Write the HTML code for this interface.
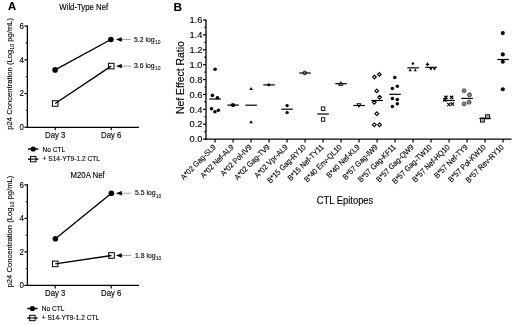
<!DOCTYPE html>
<html><head><meta charset="utf-8"><style>
html,body{margin:0;padding:0;background:#fff;}
svg{display:block;font-family:"Liberation Sans", sans-serif;filter:grayscale(1);} text{stroke:#000;stroke-width:0.12px;}
</style></head><body>
<svg width="520" height="325" viewBox="0 0 520 325" fill="#000">
<rect width="520" height="325" fill="#fff"/>
<text transform="translate(8.00 10.00)" font-size="11.3" font-weight="bold">A</text>
<text transform="translate(173.60 10.90)" font-size="11.8" font-weight="bold">B</text>
<line x1="27.4" y1="25.48" x2="27.4" y2="127.90" stroke="#000" stroke-width="1.3"/>
<line x1="24.40" y1="127.30" x2="27.4" y2="127.30" stroke="#000" stroke-width="1.2"/>
<text transform="translate(23.90 130.20) scale(1 1.1)" font-size="8" text-anchor="end">0</text>
<line x1="25.80" y1="110.43" x2="27.4" y2="110.43" stroke="#000" stroke-width="1.2"/>
<line x1="24.40" y1="93.56" x2="27.4" y2="93.56" stroke="#000" stroke-width="1.2"/>
<text transform="translate(23.90 96.46) scale(1 1.1)" font-size="8" text-anchor="end">2</text>
<line x1="25.80" y1="76.69" x2="27.4" y2="76.69" stroke="#000" stroke-width="1.2"/>
<line x1="24.40" y1="59.82" x2="27.4" y2="59.82" stroke="#000" stroke-width="1.2"/>
<text transform="translate(23.90 62.72) scale(1 1.1)" font-size="8" text-anchor="end">4</text>
<line x1="25.80" y1="42.95" x2="27.4" y2="42.95" stroke="#000" stroke-width="1.2"/>
<line x1="24.40" y1="26.08" x2="27.4" y2="26.08" stroke="#000" stroke-width="1.2"/>
<text transform="translate(23.90 28.98) scale(1 1.1)" font-size="8" text-anchor="end">6</text>
<line x1="26.799999999999997" y1="127.30" x2="139" y2="127.30" stroke="#000" stroke-width="1.3"/>
<line x1="55.2" y1="127.3" x2="55.2" y2="130.30" stroke="#000" stroke-width="1.2"/>
<text transform="translate(55.20 137.80) scale(1 1.1)" font-size="7.8" text-anchor="middle">Day 3</text>
<line x1="111.2" y1="127.3" x2="111.2" y2="130.30" stroke="#000" stroke-width="1.2"/>
<text transform="translate(111.20 137.80) scale(1 1.1)" font-size="7.8" text-anchor="middle">Day 6</text>
<text transform="translate(59.30 10.10) scale(1 1.1)" font-size="7.8">Wild-Type Nef</text>
<text transform="translate(12.00 73.79) rotate(-90)" font-size="7.65" text-anchor="middle">p24 Concentration (Log<tspan font-size="5.4" dy="1.7" stroke-width="0.05">10</tspan><tspan dy="-1.7"> pg/mL)</tspan></text>
<line x1="55.1" y1="69.9" x2="110.9" y2="39.5" stroke="#000" stroke-width="1.4"/>
<line x1="55.2" y1="103.5" x2="111.2" y2="66.1" stroke="#000" stroke-width="1.4"/>
<circle cx="55.1" cy="69.9" r="2.8" fill="#000"/>
<circle cx="110.9" cy="39.5" r="2.8" fill="#000"/>
<rect x="52.40" y="100.70" width="5.6" height="5.6" fill="none" stroke="#000" stroke-width="1.0"/>
<rect x="108.40" y="63.30" width="5.6" height="5.6" fill="none" stroke="#000" stroke-width="1.0"/>
<path d="M115.9 39.50 L121.8 37.30 L121.8 41.70 Z" fill="#000"/>
<line x1="121.6" y1="39.50" x2="131" y2="39.50" stroke="#000" stroke-width="0.7" stroke-dasharray="1 1"/>
<text transform="translate(134.00 41.60) scale(1 1.1)" font-size="6.9">5.2 log<tspan font-size="5.0" dy="2.0" dx="0.2" stroke-width="0.05">10</tspan></text>
<path d="M115.9 66.10 L121.8 63.90 L121.8 68.30 Z" fill="#000"/>
<line x1="121.6" y1="66.10" x2="131" y2="66.10" stroke="#000" stroke-width="0.7" stroke-dasharray="1 1"/>
<text transform="translate(134.00 68.20) scale(1 1.1)" font-size="6.9">3.6 log<tspan font-size="5.0" dy="2.0" dx="0.2" stroke-width="0.05">10</tspan></text>
<line x1="27.4" y1="184.30" x2="27.4" y2="286.00" stroke="#000" stroke-width="1.3"/>
<line x1="24.40" y1="285.40" x2="27.4" y2="285.40" stroke="#000" stroke-width="1.2"/>
<text transform="translate(23.90 288.30) scale(1 1.1)" font-size="8" text-anchor="end">0</text>
<line x1="25.80" y1="268.65" x2="27.4" y2="268.65" stroke="#000" stroke-width="1.2"/>
<line x1="24.40" y1="251.90" x2="27.4" y2="251.90" stroke="#000" stroke-width="1.2"/>
<text transform="translate(23.90 254.80) scale(1 1.1)" font-size="8" text-anchor="end">2</text>
<line x1="25.80" y1="235.15" x2="27.4" y2="235.15" stroke="#000" stroke-width="1.2"/>
<line x1="24.40" y1="218.40" x2="27.4" y2="218.40" stroke="#000" stroke-width="1.2"/>
<text transform="translate(23.90 221.30) scale(1 1.1)" font-size="8" text-anchor="end">4</text>
<line x1="25.80" y1="201.65" x2="27.4" y2="201.65" stroke="#000" stroke-width="1.2"/>
<line x1="24.40" y1="184.90" x2="27.4" y2="184.90" stroke="#000" stroke-width="1.2"/>
<text transform="translate(23.90 187.80) scale(1 1.1)" font-size="8" text-anchor="end">6</text>
<line x1="26.799999999999997" y1="285.40" x2="139" y2="285.40" stroke="#000" stroke-width="1.3"/>
<line x1="55.2" y1="285.4" x2="55.2" y2="288.40" stroke="#000" stroke-width="1.2"/>
<text transform="translate(55.20 295.90) scale(1 1.1)" font-size="7.8" text-anchor="middle">Day 3</text>
<line x1="111.2" y1="285.4" x2="111.2" y2="288.40" stroke="#000" stroke-width="1.2"/>
<text transform="translate(111.20 295.90) scale(1 1.1)" font-size="7.8" text-anchor="middle">Day 6</text>
<text transform="translate(70.50 177.80) scale(1 1.1)" font-size="7.8">M20A Nef</text>
<text transform="translate(12.00 231.55) rotate(-90)" font-size="7.65" text-anchor="middle">p24 Concentration (Log<tspan font-size="5.4" dy="1.7" stroke-width="0.05">10</tspan><tspan dy="-1.7"> pg/mL)</tspan></text>
<line x1="55.4" y1="238.7" x2="111.4" y2="193.3" stroke="#000" stroke-width="1.4"/>
<line x1="55.2" y1="263.9" x2="111.5" y2="255.5" stroke="#000" stroke-width="1.4"/>
<circle cx="55.4" cy="238.7" r="2.8" fill="#000"/>
<circle cx="111.4" cy="193.3" r="2.8" fill="#000"/>
<rect x="52.40" y="261.10" width="5.6" height="5.6" fill="none" stroke="#000" stroke-width="1.0"/>
<rect x="108.70" y="252.70" width="5.6" height="5.6" fill="none" stroke="#000" stroke-width="1.0"/>
<path d="M115.9 193.30 L121.8 191.10 L121.8 195.50 Z" fill="#000"/>
<line x1="121.6" y1="193.30" x2="131" y2="193.30" stroke="#000" stroke-width="0.7" stroke-dasharray="1 1"/>
<text transform="translate(134.90 195.40) scale(1 1.1)" font-size="6.9">5.5 log<tspan font-size="5.0" dy="2.0" dx="0.2" stroke-width="0.05">10</tspan></text>
<path d="M115.9 255.50 L121.8 253.30 L121.8 257.70 Z" fill="#000"/>
<line x1="121.6" y1="255.50" x2="131" y2="255.50" stroke="#000" stroke-width="0.7" stroke-dasharray="1 1"/>
<text transform="translate(134.90 257.60) scale(1 1.1)" font-size="6.9">1.8 log<tspan font-size="5.0" dy="2.0" dx="0.2" stroke-width="0.05">10</tspan></text>
<line x1="28" y1="149.0" x2="38.4" y2="149.0" stroke="#000" stroke-width="1.4"/>
<circle cx="33.2" cy="149.0" r="2.6" fill="#000"/>
<text transform="translate(42.60 152.00) scale(1 1.1)" font-size="6.6">No CTL</text>
<line x1="28" y1="159.10" x2="38.4" y2="159.10" stroke="#000" stroke-width="1.4"/>
<rect x="30.5" y="156.40" width="5.4" height="5.4" fill="#fff" stroke="#000" stroke-width="1.0"/>
<line x1="30.5" y1="159.10" x2="35.9" y2="159.10" stroke="#000" stroke-width="1.1"/>
<text transform="translate(42.60 161.30) scale(1 1.1)" font-size="6.6">+ S14-YT9-1.2 CTL</text>
<line x1="27.2" y1="308.5" x2="37.6" y2="308.5" stroke="#000" stroke-width="1.4"/>
<circle cx="32.400000000000006" cy="308.5" r="2.6" fill="#000"/>
<text transform="translate(41.80 310.80) scale(1 1.1)" font-size="6.6">No CTL</text>
<line x1="27.2" y1="318.00" x2="37.6" y2="318.00" stroke="#000" stroke-width="1.4"/>
<rect x="29.7" y="315.30" width="5.4" height="5.4" fill="#fff" stroke="#000" stroke-width="1.0"/>
<line x1="29.7" y1="318.00" x2="35.1" y2="318.00" stroke="#000" stroke-width="1.1"/>
<text transform="translate(41.80 320.20) scale(1 1.1)" font-size="6.6">+ S14-YT9-1.2 CTL</text>
<line x1="206.0" y1="19.40" x2="206.0" y2="139.7" stroke="#000" stroke-width="1.3"/>
<line x1="203.00" y1="139.10" x2="206.0" y2="139.10" stroke="#000" stroke-width="1.2"/>
<text transform="translate(202.40 142.30)" font-size="9.3" text-anchor="end">0.0</text>
<line x1="204.40" y1="131.66" x2="206.0" y2="131.66" stroke="#000" stroke-width="1.2"/>
<line x1="203.00" y1="124.21" x2="206.0" y2="124.21" stroke="#000" stroke-width="1.2"/>
<text transform="translate(202.40 127.41)" font-size="9.3" text-anchor="end">0.2</text>
<line x1="204.40" y1="116.77" x2="206.0" y2="116.77" stroke="#000" stroke-width="1.2"/>
<line x1="203.00" y1="109.32" x2="206.0" y2="109.32" stroke="#000" stroke-width="1.2"/>
<text transform="translate(202.40 112.52)" font-size="9.3" text-anchor="end">0.4</text>
<line x1="204.40" y1="101.88" x2="206.0" y2="101.88" stroke="#000" stroke-width="1.2"/>
<line x1="203.00" y1="94.44" x2="206.0" y2="94.44" stroke="#000" stroke-width="1.2"/>
<text transform="translate(202.40 97.64)" font-size="9.3" text-anchor="end">0.6</text>
<line x1="204.40" y1="86.99" x2="206.0" y2="86.99" stroke="#000" stroke-width="1.2"/>
<line x1="203.00" y1="79.55" x2="206.0" y2="79.55" stroke="#000" stroke-width="1.2"/>
<text transform="translate(202.40 82.75)" font-size="9.3" text-anchor="end">0.8</text>
<line x1="204.40" y1="72.10" x2="206.0" y2="72.10" stroke="#000" stroke-width="1.2"/>
<line x1="203.00" y1="64.66" x2="206.0" y2="64.66" stroke="#000" stroke-width="1.2"/>
<text transform="translate(202.40 67.86)" font-size="9.3" text-anchor="end">1.0</text>
<line x1="204.40" y1="57.22" x2="206.0" y2="57.22" stroke="#000" stroke-width="1.2"/>
<line x1="203.00" y1="49.77" x2="206.0" y2="49.77" stroke="#000" stroke-width="1.2"/>
<text transform="translate(202.40 52.97)" font-size="9.3" text-anchor="end">1.2</text>
<line x1="204.40" y1="42.33" x2="206.0" y2="42.33" stroke="#000" stroke-width="1.2"/>
<line x1="203.00" y1="34.88" x2="206.0" y2="34.88" stroke="#000" stroke-width="1.2"/>
<text transform="translate(202.40 38.08)" font-size="9.3" text-anchor="end">1.4</text>
<line x1="204.40" y1="27.44" x2="206.0" y2="27.44" stroke="#000" stroke-width="1.2"/>
<line x1="203.00" y1="20.00" x2="206.0" y2="20.00" stroke="#000" stroke-width="1.2"/>
<text transform="translate(202.40 23.20)" font-size="9.3" text-anchor="end">1.6</text>
<line x1="205.4" y1="139.1" x2="511.5" y2="139.1" stroke="#000" stroke-width="1.3"/>
<line x1="215.10" y1="139.1" x2="215.10" y2="142.6" stroke="#000" stroke-width="1.2"/>
<text transform="translate(216.30 147.60) rotate(-45) scale(1 1.1)" font-size="7.15" text-anchor="end">A*02 Gag-SL9</text>
<line x1="233.10" y1="139.1" x2="233.10" y2="142.6" stroke="#000" stroke-width="1.2"/>
<text transform="translate(234.30 147.60) rotate(-45) scale(1 1.1)" font-size="7.15" text-anchor="end">A*02 Nef-AL9</text>
<line x1="251.10" y1="139.1" x2="251.10" y2="142.6" stroke="#000" stroke-width="1.2"/>
<text transform="translate(252.30 147.60) rotate(-45) scale(1 1.1)" font-size="7.15" text-anchor="end">A*02 Pol-IV9</text>
<line x1="269.10" y1="139.1" x2="269.10" y2="142.6" stroke="#000" stroke-width="1.2"/>
<text transform="translate(270.30 147.60) rotate(-45) scale(1 1.1)" font-size="7.15" text-anchor="end">A*02 Gag-TV9</text>
<line x1="287.10" y1="139.1" x2="287.10" y2="142.6" stroke="#000" stroke-width="1.2"/>
<text transform="translate(288.30 147.60) rotate(-45) scale(1 1.1)" font-size="7.15" text-anchor="end">A*02 Vpr-AL9</text>
<line x1="305.10" y1="139.1" x2="305.10" y2="142.6" stroke="#000" stroke-width="1.2"/>
<text transform="translate(306.30 147.60) rotate(-45) scale(1 1.1)" font-size="7.15" text-anchor="end">B*15 Gag-RY10</text>
<line x1="323.10" y1="139.1" x2="323.10" y2="142.6" stroke="#000" stroke-width="1.2"/>
<text transform="translate(324.30 147.60) rotate(-45) scale(1 1.1)" font-size="7.15" text-anchor="end">B*15 Nef-TY11</text>
<line x1="341.10" y1="139.1" x2="341.10" y2="142.6" stroke="#000" stroke-width="1.2"/>
<text transform="translate(342.30 147.60) rotate(-45) scale(1 1.1)" font-size="7.15" text-anchor="end">B*40 Env-QL10</text>
<line x1="359.10" y1="139.1" x2="359.10" y2="142.6" stroke="#000" stroke-width="1.2"/>
<text transform="translate(360.30 147.60) rotate(-45) scale(1 1.1)" font-size="7.15" text-anchor="end">B*40 Nef-KL9</text>
<line x1="377.10" y1="139.1" x2="377.10" y2="142.6" stroke="#000" stroke-width="1.2"/>
<text transform="translate(378.30 147.60) rotate(-45) scale(1 1.1)" font-size="7.15" text-anchor="end">B*57 Gag-IW9</text>
<line x1="395.10" y1="139.1" x2="395.10" y2="142.6" stroke="#000" stroke-width="1.2"/>
<text transform="translate(396.30 147.60) rotate(-45) scale(1 1.1)" font-size="7.15" text-anchor="end">B*57 Gag-KF11</text>
<line x1="413.10" y1="139.1" x2="413.10" y2="142.6" stroke="#000" stroke-width="1.2"/>
<text transform="translate(414.30 147.60) rotate(-45) scale(1 1.1)" font-size="7.15" text-anchor="end">B*57 Gag-QW9</text>
<line x1="431.10" y1="139.1" x2="431.10" y2="142.6" stroke="#000" stroke-width="1.2"/>
<text transform="translate(432.30 147.60) rotate(-45) scale(1 1.1)" font-size="7.15" text-anchor="end">B*57 Gag-TW10</text>
<line x1="449.10" y1="139.1" x2="449.10" y2="142.6" stroke="#000" stroke-width="1.2"/>
<text transform="translate(450.30 147.60) rotate(-45) scale(1 1.1)" font-size="7.15" text-anchor="end">B*57 Nef-HQ10</text>
<line x1="467.10" y1="139.1" x2="467.10" y2="142.6" stroke="#000" stroke-width="1.2"/>
<text transform="translate(468.30 147.60) rotate(-45) scale(1 1.1)" font-size="7.15" text-anchor="end">B*57 Nef-TY9</text>
<line x1="485.10" y1="139.1" x2="485.10" y2="142.6" stroke="#000" stroke-width="1.2"/>
<text transform="translate(486.30 147.60) rotate(-45) scale(1 1.1)" font-size="7.15" text-anchor="end">B*57 Pol-KW10</text>
<line x1="503.10" y1="139.1" x2="503.10" y2="142.6" stroke="#000" stroke-width="1.2"/>
<text transform="translate(504.30 147.60) rotate(-45) scale(1 1.1)" font-size="7.15" text-anchor="end">B*57 Rev-RY10</text>
<text transform="translate(345.00 203.80) scale(1 1.1)" font-size="9.4" text-anchor="middle">CTL Epitopes</text>
<text transform="translate(183.80 77.60) rotate(-90) scale(1 1.1)" font-size="10.45" text-anchor="middle">Nef Effect Ratio</text>
<circle cx="215.10" cy="69.30" r="1.8" fill="#000"/>
<circle cx="212.40" cy="95.40" r="1.8" fill="#000"/>
<circle cx="217.40" cy="97.70" r="1.8" fill="#000"/>
<circle cx="211.50" cy="108.70" r="1.8" fill="#000"/>
<circle cx="215.00" cy="111.70" r="1.8" fill="#000"/>
<circle cx="218.40" cy="110.30" r="1.8" fill="#000"/>
<line x1="209.30" y1="99.00" x2="220.90" y2="99.00" stroke="#000" stroke-width="1.2"/>
<circle cx="232.40" cy="105.10" r="1.8" fill="#000"/>
<circle cx="233.60" cy="105.10" r="1.8" fill="#000"/>
<line x1="227.30" y1="105.10" x2="238.90" y2="105.10" stroke="#000" stroke-width="1.2"/>
<line x1="245.30" y1="105.20" x2="256.90" y2="105.20" stroke="#000" stroke-width="1.2"/>
<path d="M251.10 86.93 L252.90 90.07 L249.30 90.07 Z" fill="#000"/>
<path d="M251.10 120.23 L252.90 123.37 L249.30 123.37 Z" fill="#000"/>
<line x1="263.30" y1="84.90" x2="274.90" y2="84.90" stroke="#000" stroke-width="1.2"/>
<circle cx="268.80" cy="84.70" r="1.5" fill="#000"/>
<line x1="281.30" y1="109.20" x2="292.90" y2="109.20" stroke="#000" stroke-width="1.2"/>
<circle cx="287.10" cy="105.60" r="1.7" fill="#000"/>
<circle cx="287.10" cy="112.60" r="1.7" fill="#000"/>
<line x1="299.30" y1="73.00" x2="310.90" y2="73.00" stroke="#000" stroke-width="1.2"/>
<circle cx="304.80" cy="72.90" r="1.75" fill="none" stroke="#000" stroke-width="1.0"/>
<line x1="317.30" y1="114.00" x2="328.90" y2="114.00" stroke="#000" stroke-width="1.2"/>
<rect x="321.35" y="106.95" width="3.5" height="3.5" fill="#fff" stroke="#000" stroke-width="0.9"/>
<rect x="321.35" y="117.75" width="3.5" height="3.5" fill="#fff" stroke="#000" stroke-width="0.9"/>
<line x1="335.30" y1="83.70" x2="346.90" y2="83.70" stroke="#000" stroke-width="1.2"/>
<path d="M340.80 81.67 L342.90 85.33 L338.70 85.33 Z" fill="none" stroke="#000" stroke-width="1.0"/>
<line x1="353.30" y1="105.50" x2="364.90" y2="105.50" stroke="#000" stroke-width="1.2"/>
<path d="M358.90 107.24 L360.90 103.76 L356.90 103.76 Z" fill="none" stroke="#000" stroke-width="1.0"/>
<line x1="371.30" y1="100.50" x2="382.90" y2="100.50" stroke="#000" stroke-width="1.2"/>
<path d="M374.40 75.25 L376.25 77.10 L374.40 78.95 L372.55 77.10 Z" fill="#fff" stroke="#000" stroke-width="1.1"/>
<path d="M379.40 72.55 L381.25 74.40 L379.40 76.25 L377.55 74.40 Z" fill="#fff" stroke="#000" stroke-width="1.1"/>
<path d="M376.80 89.05 L378.65 90.90 L376.80 92.75 L374.95 90.90 Z" fill="#fff" stroke="#000" stroke-width="1.1"/>
<path d="M379.60 95.45 L381.45 97.30 L379.60 99.15 L377.75 97.30 Z" fill="#fff" stroke="#000" stroke-width="1.1"/>
<path d="M374.30 100.45 L376.15 102.30 L374.30 104.15 L372.45 102.30 Z" fill="#fff" stroke="#000" stroke-width="1.1"/>
<path d="M376.80 111.85 L378.65 113.70 L376.80 115.55 L374.95 113.70 Z" fill="#fff" stroke="#000" stroke-width="1.1"/>
<path d="M374.30 122.95 L376.15 124.80 L374.30 126.65 L372.45 124.80 Z" fill="#fff" stroke="#000" stroke-width="1.1"/>
<path d="M379.60 122.95 L381.45 124.80 L379.60 126.65 L377.75 124.80 Z" fill="#fff" stroke="#000" stroke-width="1.1"/>
<circle cx="394.80" cy="77.60" r="1.75" fill="#000"/>
<circle cx="397.30" cy="86.20" r="1.75" fill="#000"/>
<circle cx="392.40" cy="88.50" r="1.75" fill="#000"/>
<circle cx="392.40" cy="98.60" r="1.75" fill="#000"/>
<circle cx="397.30" cy="99.50" r="1.75" fill="#000"/>
<circle cx="397.30" cy="103.80" r="1.75" fill="#000"/>
<circle cx="392.40" cy="106.60" r="1.75" fill="#000"/>
<line x1="389.30" y1="94.30" x2="400.90" y2="94.30" stroke="#000" stroke-width="1.2"/>
<circle cx="412.90" cy="63.50" r="1.2" fill="#000"/>
<path d="M410.20 68.59 L411.70 71.21 L408.70 71.21 Z" fill="#000"/>
<path d="M415.30 68.59 L416.80 71.21 L413.80 71.21 Z" fill="#000"/>
<line x1="407.30" y1="67.85" x2="418.90" y2="67.85" stroke="#000" stroke-width="1.2"/>
<path d="M425.70 64.30 L429.30 64.30 M427.50 62.50 L427.50 66.10" stroke="#000" stroke-width="1.2"/>
<path d="M430.90 70.74 L432.55 67.86 L429.25 67.86 Z" fill="#000"/>
<path d="M434.40 70.64 L436.05 67.76 L432.75 67.76 Z" fill="#000"/>
<line x1="425.30" y1="67.30" x2="436.90" y2="67.30" stroke="#000" stroke-width="1.2"/>
<path d="M444.30 95.80 L447.50 99.00 M447.50 95.80 L444.30 99.00" stroke="#000" stroke-width="1.25"/>
<path d="M450.00 95.80 L453.20 99.00 M453.20 95.80 L450.00 99.00" stroke="#000" stroke-width="1.25"/>
<path d="M443.30 98.30 L446.50 101.50 M446.50 98.30 L443.30 101.50" stroke="#000" stroke-width="1.25"/>
<path d="M447.30 102.90 L450.50 106.10 M450.50 102.90 L447.30 106.10" stroke="#000" stroke-width="1.25"/>
<path d="M450.90 102.40 L454.10 105.60 M454.10 102.40 L450.90 105.60" stroke="#000" stroke-width="1.25"/>
<line x1="443.30" y1="100.50" x2="454.90" y2="100.50" stroke="#000" stroke-width="1.2"/>
<line x1="461.30" y1="98.40" x2="472.90" y2="98.40" stroke="#000" stroke-width="1.2"/>
<circle cx="464.10" cy="90.70" r="2.0" fill="#888" stroke="#333" stroke-width="0.8"/>
<circle cx="469.50" cy="94.80" r="2.0" fill="#888" stroke="#333" stroke-width="0.8"/>
<circle cx="464.10" cy="103.90" r="2.0" fill="#888" stroke="#333" stroke-width="0.8"/>
<circle cx="469.10" cy="102.20" r="2.0" fill="#888" stroke="#333" stroke-width="0.8"/>
<rect x="480.40" y="118.10" width="4.0" height="4.0" fill="#b0b0b0" stroke="#000" stroke-width="0.9"/>
<rect x="485.60" y="114.80" width="4.0" height="4.0" fill="#b0b0b0" stroke="#000" stroke-width="0.9"/>
<line x1="479.30" y1="118.40" x2="490.90" y2="118.40" stroke="#000" stroke-width="1.2"/>
<circle cx="502.80" cy="33.10" r="2.05" fill="#000"/>
<circle cx="502.80" cy="54.40" r="2.05" fill="#000"/>
<circle cx="502.80" cy="61.80" r="2.05" fill="#000"/>
<circle cx="502.80" cy="89.20" r="2.05" fill="#000"/>
<line x1="497.30" y1="59.50" x2="508.90" y2="59.50" stroke="#000" stroke-width="1.2"/>
</svg>
</body></html>
